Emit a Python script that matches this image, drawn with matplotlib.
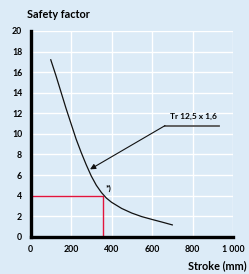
import matplotlib
matplotlib.use("Agg")
import matplotlib.pyplot as plt

# Data
stroke = [100, 125, 150, 175, 200, 225, 250, 275, 300, 325, 350, 375, 400,
          450, 500, 550, 600, 650, 700]
safety = [17.2, 15.7, 14.1, 12.5, 11.0, 9.5, 8.2, 7.0, 5.9, 5.0, 4.3, 3.75, 3.35,
          2.75, 2.3, 1.95, 1.68, 1.42, 1.15]
marker_x = 360
marker_y = 4
x_ticks = [0, 200, 400, 600, 800, 1000]
x_tick_labels = ["0", "200", "400", "600", "800", "1 000"]
y_ticks = [0, 2, 4, 6, 8, 10, 12, 14, 16, 18, 20]
series_label = "Tr 12,5 x 1,6"

BG = "#dcebf7"
plt.rcParams['font.family'] = ['Lato', 'DejaVu Sans']

fig = plt.figure(figsize=(2.49, 2.74), dpi=100, facecolor=BG)
ax = fig.add_axes([0.1225, 0.136, 0.8135, 0.751])
ax.set_facecolor(BG)

ax.set_xlim(0, 1000)
ax.set_ylim(0, 20)
ax.set_xticks(x_ticks)
ax.set_xticklabels(x_tick_labels)
ax.set_yticks(y_ticks)
ax.grid(True, color="white", linewidth=1.0)
ax.set_axisbelow(True)
for s in ["top", "right"]:
    ax.spines[s].set_visible(False)
for s in ["left", "bottom"]:
    ax.spines[s].set_linewidth(2.4)
    ax.spines[s].set_color("black")
    ax.spines[s].set_zorder(5)
ax.tick_params(length=0, labelsize=6.3, pad=6)
for lab in ax.get_xticklabels() + ax.get_yticklabels():
    lab.set_fontweight("bold")

# red marker lines
ax.plot([0, marker_x, marker_x], [marker_y, marker_y, 0], color="#e2143c",
        linewidth=1.0, zorder=3, clip_on=False)

# curve
ax.plot(stroke, safety, color="#111111", linewidth=0.9, zorder=4,
        solid_joinstyle="round")

# annotation
ax.annotate("", xy=(294, 6.55), xytext=(664, 10.8),
            arrowprops=dict(arrowstyle="-|>", color="#111111", lw=0.8,
                            mutation_scale=8, shrinkA=0, shrinkB=0))
ax.plot([664, 932], [10.8, 10.8], color="#555555", linewidth=1.3)
ax.text(802, 11.3, series_label, fontsize=6, fontweight="bold",
        ha="center", va="bottom")
ax.text(384, 4.7, "*)", fontsize=6, fontweight="bold", ha="center", va="center")

fig.text(27 / 249, 1 - 14.5 / 274, "Safety factor", fontsize=7.8, fontweight="bold",
         ha="left", va="center")
fig.text(247 / 249, 1 - 265.5 / 274, "Stroke (mm)", fontsize=7.8, fontweight="bold",
         ha="right", va="center")

fig.savefig("out.png", dpi=100, facecolor=BG)
